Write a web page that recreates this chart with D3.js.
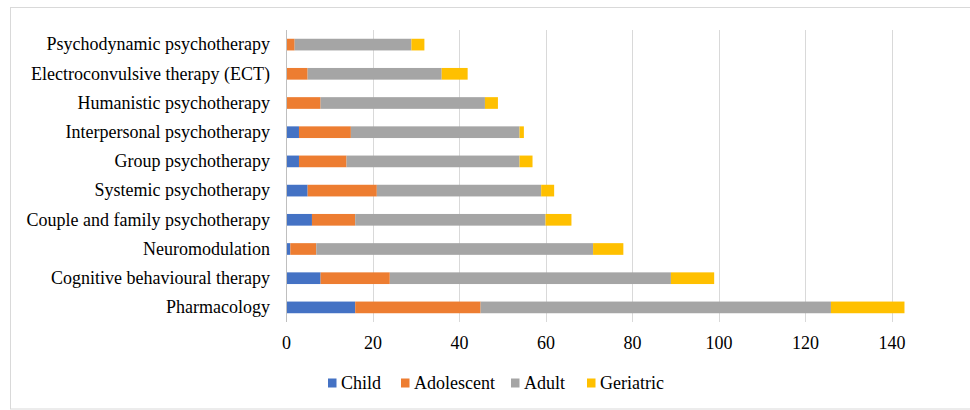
<!DOCTYPE html>
<html>
<head>
<meta charset="utf-8">
<script src="https://cdn.jsdelivr.net/npm/d3@7"></script>
<style>
  html, body { margin: 0; padding: 0; background: #fff; }
  svg { display: block; }
  text { font-family: "Liberation Serif", "Times New Roman", serif; fill: #000; }
</style>
</head>
<body>
<svg id="chart" width="970" height="410"></svg>
<script>
// Therapy categories, bottom to top as listed on the axis
const categories = [
  "Pharmacology",
  "Cognitive behavioural therapy",
  "Neuromodulation",
  "Couple and family psychotherapy",
  "Systemic psychotherapy",
  "Group psychotherapy",
  "Interpersonal psychotherapy",
  "Humanistic psychotherapy",
  "Electroconvulsive therapy (ECT)",
  "Psychodynamic psychotherapy"
];

// Counts per age group, aligned with categories
const child      = [16,  8,  1,  6,  5,  3,  3,  0,  0,  0];
const adolescent = [29, 16,  6, 10, 16, 11, 12,  8,  5,  2];
const adult      = [81, 65, 64, 44, 38, 40, 39, 38, 31, 27];
const geriatric  = [17, 10,  7,  6,  3,  3,  1,  3,  6,  3];

const seriesNames = ["Child", "Adolescent", "Adult", "Geriatric"];
const seriesColors = ["#4472C4", "#ED7D31", "#A5A5A5", "#FFC000"];
const xTicks = [0, 20, 40, 60, 80, 100, 120, 140];

const FONT = '"Liberation Serif", "Times New Roman", serif';
const FONT_SIZE = "18px";

const rows = categories.map((c, i) => ({
  category: c,
  Child: child[i],
  Adolescent: adolescent[i],
  Adult: adult[i],
  Geriatric: geriatric[i]
}));

const svg = d3.select("#chart");

// chart frame
svg.append("rect")
  .attr("x", 10.5).attr("y", 7.5)
  .attr("width", 970).attr("height", 401.5)
  .attr("fill", "none")
  .attr("stroke", "#D9D9D9")
  .attr("stroke-width", 1);

const plot = { left: 286, right: 891.5, top: 30, bottom: 322 };

const x = d3.scaleLinear().domain([0, 140]).range([plot.left, plot.right]);
const y = d3.scaleBand()
  .domain(categories.slice().reverse())
  .range([plot.top, plot.bottom])
  .paddingInner(0.6)
  .paddingOuter(0.3);

// vertical gridlines
svg.append("g")
  .selectAll("line")
  .data(xTicks.filter(t => t > 0))
  .join("line")
  .attr("x1", d => Math.round(x(d)) + 0.5)
  .attr("x2", d => Math.round(x(d)) + 0.5)
  .attr("y1", plot.top)
  .attr("y2", plot.bottom)
  .attr("stroke", "#D9D9D9")
  .attr("stroke-width", 1);

const stack = d3.stack().keys(seriesNames)(rows);
const color = d3.scaleOrdinal().domain(seriesNames).range(seriesColors);

svg.append("g")
  .selectAll("g")
  .data(stack)
  .join("g")
  .attr("fill", d => color(d.key))
  .selectAll("rect")
  .data(d => d)
  .join("rect")
  .attr("x", d => x(d[0]))
  .attr("y", d => y(d.data.category))
  .attr("width", d => Math.max(0, x(d[1]) - x(d[0])))
  .attr("height", y.bandwidth());

// category axis line
svg.append("line")
  .attr("x1", plot.left + 0.5).attr("x2", plot.left + 0.5)
  .attr("y1", plot.top).attr("y2", plot.bottom)
  .attr("stroke", "#BFBFBF")
  .attr("stroke-width", 1);

// category labels
const yAxis = d3.axisLeft(y).tickSize(0).tickPadding(16);
const yg = svg.append("g").attr("transform", `translate(${plot.left},0)`).call(yAxis);
yg.select(".domain").remove();
yg.selectAll("text")
  .style("font-family", FONT)
  .style("font-size", FONT_SIZE)
  .attr("fill", "#000");

// value axis labels
const xAxis = d3.axisBottom(x).tickValues(xTicks).tickSize(0).tickPadding(14);
const xg = svg.append("g").attr("transform", `translate(0,${plot.bottom})`).call(xAxis);
xg.select(".domain").remove();
xg.selectAll("text")
  .style("font-family", FONT)
  .style("font-size", FONT_SIZE)
  .attr("fill", "#000");

// legend
const legendX = [328, 401, 511, 587];
const legend = svg.append("g");
seriesNames.forEach((name, i) => {
  legend.append("rect")
    .attr("x", legendX[i]).attr("y", 378.5)
    .attr("width", 8.5).attr("height", 9)
    .attr("fill", seriesColors[i]);
  legend.append("text")
    .attr("x", legendX[i] + 13).attr("y", 388.5)
    .style("font-family", FONT)
    .style("font-size", FONT_SIZE)
    .text(name);
});
</script>
</body>
</html>
